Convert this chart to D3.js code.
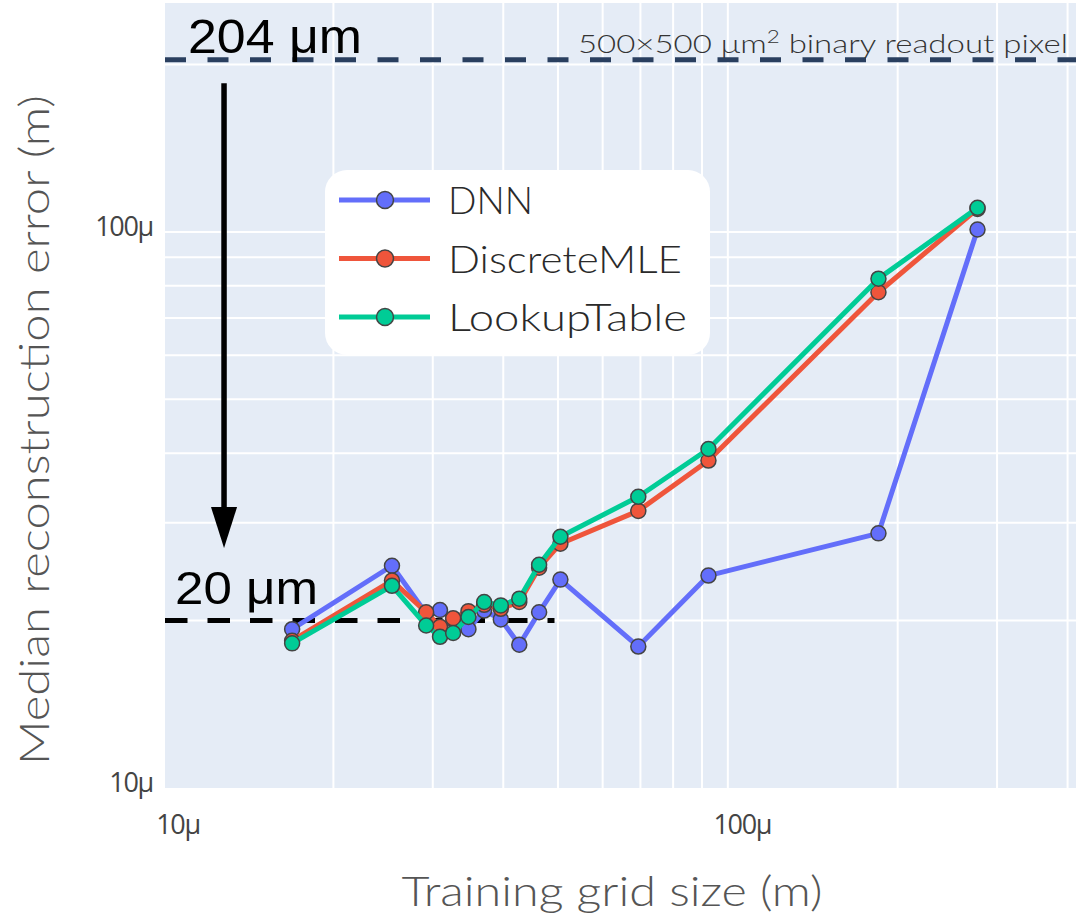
<!DOCTYPE html>
<html>
<head>
<meta charset="utf-8">
<script src="https://cdn.jsdelivr.net/npm/d3@7"></script>
<style>
  body { margin: 0; background: #fff; }
  svg { display: block; }
</style>
</head>
<body>
<svg id="chart" width="1076" height="919"></svg>
<script>
// Training grid sizes (m) and median reconstruction errors (m) per method
const gridSizes = [16.9e-6, 25.4e-6, 29.2e-6, 30.9e-6, 32.6e-6, 34.7e-6, 37.0e-6, 39.6e-6,
                   42.7e-6, 46.3e-6, 50.5e-6, 69.4e-6, 92.4e-6, 184.9e-6, 277e-6];
const dnnError = [19.3e-6, 25.1e-6, 20.6e-6, 20.9e-6, 20.1e-6, 19.3e-6, 20.85e-6, 20.1e-6,
                  18.1e-6, 20.7e-6, 23.7e-6, 17.96e-6, 24.1e-6, 28.7e-6, 101.0e-6];
const discreteMleError = [18.4e-6, 23.6e-6, 20.7e-6, 19.5e-6, 20.2e-6, 20.8e-6, 21.35e-6, 21.0e-6,
                          21.6e-6, 24.9e-6, 27.5e-6, 31.5e-6, 38.8e-6, 77.9e-6, 110.0e-6];
const lookupTableError = [18.2e-6, 23.1e-6, 19.6e-6, 18.7e-6, 19.0e-6, 20.3e-6, 21.6e-6, 21.3e-6,
                          21.9e-6, 25.2e-6, 28.3e-6, 33.4e-6, 40.7e-6, 82.4e-6, 110.5e-6];

const seriesNames = ["DNN", "DiscreteMLE", "LookupTable"];
const seriesColors = ["#636efa", "#EF553B", "#00cc96"];

// Axis ticks and grid
const xTickValues = [1e-5, 1e-4];
const xTickLabels = ["10μ", "100μ"];
const yTickValues = [1e-5, 1e-4];
const yTickLabels = ["10μ", "100μ"];
const xGridValues = [2e-5, 3e-5, 4e-5, 5e-5, 6e-5, 7e-5, 8e-5, 9e-5, 1e-4, 2e-4, 3e-4, 4e-4];
const yGridValues = [2e-5, 3e-5, 4e-5, 5e-5, 6e-5, 7e-5, 8e-5, 9e-5, 1e-4, 2e-4];

// Reference levels
const pixelResolution = 204e-6;   // 500 µm / sqrt(6)
const targetResolution = 20e-6;
const targetLineEnd = 49.3e-6;
const arrowX = 12.8e-6;
const arrowFrom = 185e-6;
const arrowTo = 27e-6;

const svg = d3.select("#chart");
const plot = { left: 165, right: 1076, top: 3, bottom: 788 };

const x = d3.scaleLog().domain([10.06e-6, 414e-6]).range([plot.left, plot.right]);
const y = d3.scaleLog().domain([10e-6, 258e-6]).range([plot.bottom, plot.top]);

// Plot background
svg.append("rect")
  .attr("x", plot.left).attr("y", plot.top)
  .attr("width", plot.right - plot.left).attr("height", plot.bottom - plot.top)
  .attr("fill", "#e5ecf6");

svg.append("clipPath").attr("id", "plotClip").append("rect")
  .attr("x", plot.left).attr("y", plot.top)
  .attr("width", plot.right - plot.left).attr("height", plot.bottom - plot.top);

// Grid lines
const grid = svg.append("g").attr("clip-path", "url(#plotClip)");
grid.selectAll(".xg").data(xGridValues).join("line")
  .attr("x1", d => x(d)).attr("x2", d => x(d))
  .attr("y1", plot.top).attr("y2", plot.bottom)
  .attr("stroke", "#fff").attr("stroke-width", 2);
grid.selectAll(".yg").data(yGridValues).join("line")
  .attr("y1", d => y(d)).attr("y2", d => y(d))
  .attr("x1", plot.left).attr("x2", plot.right)
  .attr("stroke", "#fff").attr("stroke-width", 2);

// Tick labels
const tickFont = "'Open Sans', 'Noto Sans', sans-serif";
const xAxis = d3.axisBottom(x).tickValues(xTickValues)
  .tickFormat((d, i) => xTickLabels[i]).tickSize(0).tickPadding(0);
svg.append("g").attr("transform", `translate(0,${plot.bottom})`).call(xAxis)
  .call(g => g.select(".domain").remove())
  .selectAll("text")
  .attr("dx", 14).attr("dy", 0).attr("y", 46)
  .attr("font-family", tickFont).attr("font-size", 27)
  .attr("letter-spacing", -1.3).attr("fill", "#444");

const yAxis = d3.axisLeft(y).tickValues(yTickValues)
  .tickFormat((d, i) => yTickLabels[i]).tickSize(0).tickPadding(0);
svg.append("g").attr("transform", `translate(${plot.left},0)`).call(yAxis)
  .call(g => g.select(".domain").remove())
  .selectAll("text")
  .attr("x", -12).attr("dy", "0.28em").attr("transform", "translate(0,-4)")
  .attr("font-family", tickFont).attr("font-size", 27)
  .attr("letter-spacing", -1.3).attr("fill", "#444");

// Axis titles
const titleFont = "Lato, 'Noto Sans', sans-serif";
svg.append("text")
  .attr("x", 612).attr("y", 906)
  .attr("text-anchor", "middle")
  .attr("font-family", titleFont).attr("font-size", 42).attr("font-weight", 300)
  .attr("fill", "#555")
  .attr("textLength", 421).attr("lengthAdjust", "spacingAndGlyphs")
  .text("Training grid size (m)");

svg.append("text")
  .attr("transform", "translate(49,430) rotate(-90)")
  .attr("text-anchor", "middle")
  .attr("font-family", titleFont).attr("font-size", 42).attr("font-weight", 300)
  .attr("fill", "#555")
  .attr("textLength", 670).attr("lengthAdjust", "spacingAndGlyphs")
  .text("Median reconstruction error (m)");

// Pixel-size reference line
svg.append("line")
  .attr("x1", plot.left).attr("x2", plot.right)
  .attr("y1", y(pixelResolution)).attr("y2", y(pixelResolution))
  .attr("stroke", "#2a3f5f").attr("stroke-width", 5)
  .attr("stroke-dasharray", "21,21.5");

const pixelNote = svg.append("text")
  .attr("x", 1068).attr("y", 53)
  .attr("text-anchor", "end")
  .attr("font-family", titleFont).attr("font-size", 25).attr("font-weight", 300)
  .attr("fill", "#333")
  .attr("textLength", 490).attr("lengthAdjust", "spacingAndGlyphs");
pixelNote.append("tspan").text("500×500 μm");
pixelNote.append("tspan").attr("font-size", 17).attr("dy", -10).text("2");
pixelNote.append("tspan").attr("dy", 10).text(" binary readout pixel");

// Target resolution line
svg.append("line")
  .attr("x1", plot.left).attr("x2", x(targetLineEnd))
  .attr("y1", y(targetResolution)).attr("y2", y(targetResolution))
  .attr("stroke", "#000").attr("stroke-width", 5)
  .attr("stroke-dasharray", "22.5,20");

// Annotation labels
const annoFont = "'Liberation Sans', Arial, sans-serif";
svg.append("text")
  .attr("x", 188).attr("y", 53)
  .attr("font-family", annoFont).attr("font-size", 48)
  .attr("fill", "#000")
  .attr("textLength", 174).attr("lengthAdjust", "spacingAndGlyphs")
  .text("204 μm");
svg.append("text")
  .attr("x", 175).attr("y", 604)
  .attr("font-family", annoFont).attr("font-size", 46)
  .attr("fill", "#000")
  .attr("textLength", 143).attr("lengthAdjust", "spacingAndGlyphs")
  .text("20 μm");

// Arrow from pixel size down to target resolution
const ax = x(arrowX), ay1 = y(arrowFrom), ay2 = y(arrowTo);
svg.append("line")
  .attr("x1", ax).attr("x2", ax).attr("y1", ay1).attr("y2", ay2 - 30)
  .attr("stroke", "#000").attr("stroke-width", 5.5);
svg.append("path")
  .attr("d", `M${ax - 13},${ay2 - 41} L${ax + 13},${ay2 - 41} L${ax},${ay2} Z`)
  .attr("fill", "#000");

// Series
const series = [dnnError, discreteMleError, lookupTableError];
const line = d3.line().x(d => x(d[0])).y(d => y(d[1]));
const traces = svg.append("g").attr("clip-path", "url(#plotClip)");
series.forEach((vals, i) => {
  const pts = gridSizes.map((g, j) => [g, vals[j]]);
  const tg = traces.append("g");
  tg.append("path").datum(pts)
    .attr("d", line)
    .attr("fill", "none")
    .attr("stroke", seriesColors[i]).attr("stroke-width", 5)
    .attr("stroke-linejoin", "round");
  tg.selectAll("circle").data(pts).join("circle")
    .attr("cx", d => x(d[0])).attr("cy", d => y(d[1]))
    .attr("r", 7.5)
    .attr("fill", seriesColors[i])
    .attr("stroke", "#444").attr("stroke-width", 1.5);
});

// Legend
const legend = svg.append("g");
legend.append("rect")
  .attr("x", 325).attr("y", 170).attr("width", 385).attr("height", 185)
  .attr("rx", 22).attr("fill", "#fff");
const legendWidths = [85, 234, 239];
seriesNames.forEach((name, i) => {
  const cy = 200 + i * 58.5;
  legend.append("line")
    .attr("x1", 339).attr("x2", 430).attr("y1", cy).attr("y2", cy)
    .attr("stroke", seriesColors[i]).attr("stroke-width", 5);
  legend.append("circle")
    .attr("cx", 385).attr("cy", cy).attr("r", 8.5)
    .attr("fill", seriesColors[i]).attr("stroke", "#444").attr("stroke-width", 1.5);
  legend.append("text")
    .attr("x", 448).attr("y", cy + 14)
    .attr("font-family", titleFont).attr("font-size", 37).attr("font-weight", 300)
    .attr("fill", "#2a2a2a")
    .attr("textLength", legendWidths[i]).attr("lengthAdjust", "spacingAndGlyphs")
    .text(name);
});
</script>
</body>
</html>
